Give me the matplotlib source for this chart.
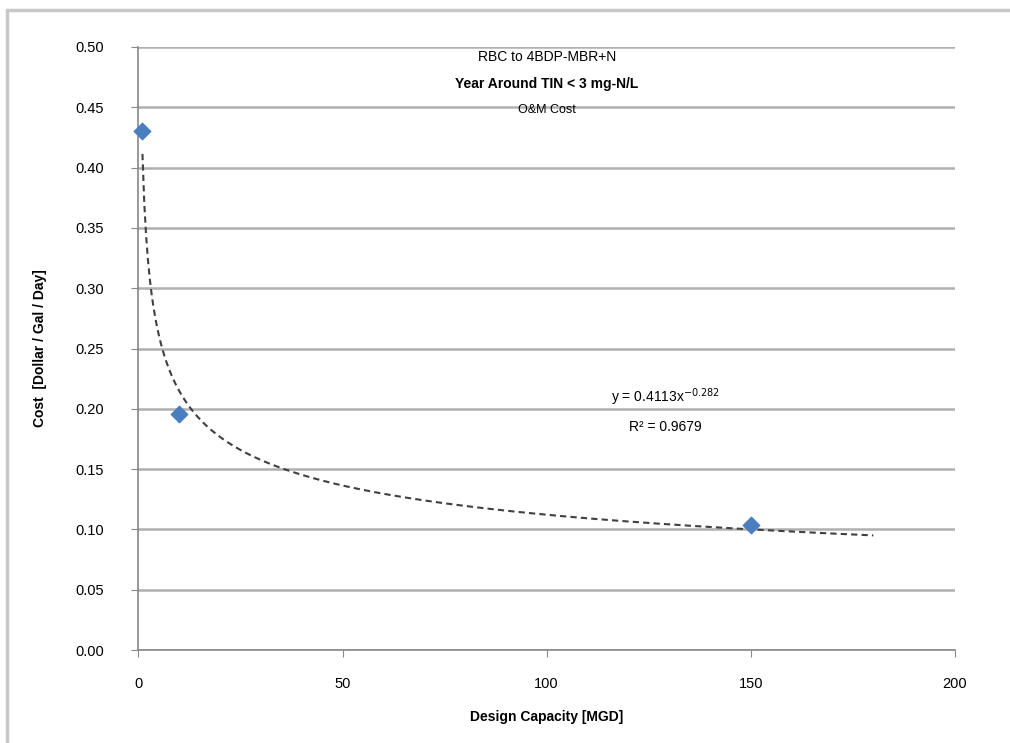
import numpy as np
import matplotlib
matplotlib.use("Agg")
import matplotlib.pyplot as plt
from matplotlib.patches import Rectangle

# data
capacity = [1, 10, 150]          # MGD
cost = [0.430, 0.196, 0.104]     # $/gal/day
fit_a = 0.4113
fit_b = -0.282
fit_r2 = 0.9679
fit_xmax = 180
title_lines = ["RBC to 4BDP-MBR+N", "Year Around TIN < 3 mg-N/L", "O&M Cost"]

plt.rcParams["font.family"] = ["Liberation Sans", "DejaVu Sans"]

fig = plt.figure(figsize=(10.1, 7.43), dpi=100)
ax = fig.add_axes([0.137, 0.125, 0.8085, 0.8118])

# chart border
fig.patches.append(Rectangle((7 / 1010, -0.01), 1.02, 1 - 10 / 743 + 0.01,
                             transform=fig.transFigure, fill=False,
                             edgecolor="#c8c8c8", linewidth=2.5))

ax.set_xlim(0, 200)
ax.set_ylim(0, 0.5)
ax.set_xticks(np.arange(0, 201, 50))
ax.set_yticks(np.arange(0, 0.501, 0.05))
ax.set_yticklabels([f"{v:.2f}" for v in np.arange(0, 0.501, 0.05)])
ax.grid(axis="y", color="#b0b0b0", linewidth=1.8)
ax.set_axisbelow(True)
for s in ("top", "right"):
    ax.spines[s].set_visible(False)
for s in ("left", "bottom"):
    ax.spines[s].set_color("#888888")
    ax.spines[s].set_linewidth(1.2)
ax.tick_params(direction="out", length=5, color="#888888", labelsize=10.5)
ax.tick_params(axis="y", pad=20)
ax.tick_params(axis="x", pad=14)

# power trendline
xs = np.linspace(1, fit_xmax, 400)
ax.plot(xs, fit_a * xs ** fit_b, color="#404040", linewidth=1.5,
        linestyle=(0, (3, 2)))

ax.scatter(capacity, cost, marker="D", s=70, color="#4a7ebf", zorder=5,
           clip_on=False)

ax.text(129, 0.201, f"y = {fit_a}x$^{{{fit_b}}}$", ha="center", va="bottom",
        fontsize=10)
ax.text(129, 0.185, f"R² = {fit_r2}", ha="center", va="center", fontsize=10)

ax.text(0.5, 0.983, title_lines[0], transform=ax.transAxes, ha="center",
        va="center", fontsize=10)
ax.text(0.5, 0.938, title_lines[1], transform=ax.transAxes, ha="center",
        va="center", fontsize=10, fontweight="bold")
ax.text(0.5, 0.896, title_lines[2], transform=ax.transAxes, ha="center",
        va="center", fontsize=9)

ax.set_xlabel("Design Capacity [MGD]", fontsize=10, fontweight="bold",
              labelpad=14)
ax.set_ylabel("Cost  [Dollar / Gal / Day]", fontsize=10, fontweight="bold",
              labelpad=20)

fig.savefig("out.png", dpi=100)
